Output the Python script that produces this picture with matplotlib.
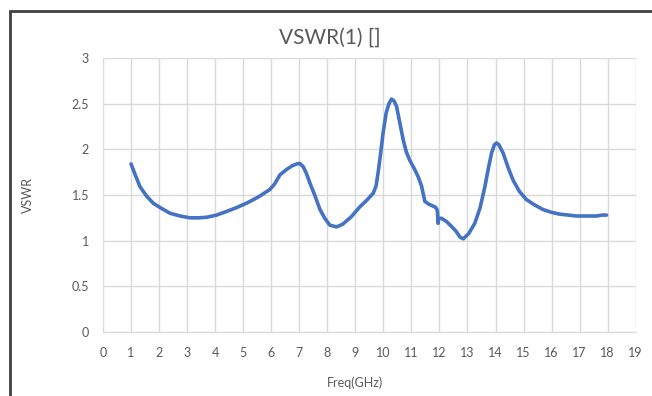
import matplotlib
matplotlib.use("Agg")
import matplotlib.pyplot as plt
from matplotlib.patches import Rectangle

plt.rcParams["font.family"] = ["Lato", "DejaVu Sans"]

# values
freq = [1.0, 1.15, 1.32, 1.55, 1.79, 2.05, 2.39, 2.75, 3.10, 3.40, 3.70,
        4.05, 4.41, 4.75, 5.12, 5.55, 5.95, 6.12, 6.31, 6.55, 6.75, 6.91,
        7.02, 7.14, 7.25, 7.38, 7.55, 7.74, 7.92, 8.09, 8.33, 8.55, 8.85,
        9.16, 9.40, 9.64, 9.74, 9.81, 9.90, 9.99, 10.10, 10.20, 10.29,
        10.38, 10.47, 10.58, 10.71, 10.82, 10.94, 11.10, 11.24, 11.36,
        11.48, 11.62, 11.76, 11.84, 11.90, 11.93, 11.95, 11.97, 12.07,
        12.25, 12.45, 12.60, 12.73, 12.85, 13.05, 13.26, 13.45, 13.62,
        13.75, 13.86, 13.96, 14.04, 14.12, 14.27, 14.45, 14.63, 14.85,
        15.10, 15.40, 15.70, 16.00, 16.29, 16.60, 16.89, 17.25, 17.60,
        17.80, 17.96]
vswr = [1.84, 1.72, 1.59, 1.49, 1.41, 1.36, 1.30, 1.27, 1.25, 1.25, 1.256,
        1.28, 1.32, 1.36, 1.41, 1.48, 1.56, 1.62, 1.72, 1.78, 1.82, 1.84,
        1.845, 1.81, 1.74, 1.63, 1.50, 1.34, 1.24, 1.17, 1.15, 1.18, 1.26,
        1.37, 1.44, 1.52, 1.60, 1.74, 1.95, 2.18, 2.40, 2.50, 2.55, 2.53,
        2.47, 2.30, 2.10, 1.97, 1.88, 1.79, 1.70, 1.60, 1.43, 1.40, 1.38,
        1.37, 1.35, 1.32, 1.19, 1.24, 1.245, 1.21, 1.15, 1.10, 1.04, 1.02,
        1.08, 1.19, 1.36, 1.59, 1.80, 1.96, 2.05, 2.07, 2.05, 1.96, 1.80,
        1.66, 1.54, 1.45, 1.39, 1.34, 1.31, 1.29, 1.28, 1.27, 1.27, 1.27,
        1.28, 1.28]

x_ticks = list(range(0, 20))
y_ticks = [0, 0.5, 1, 1.5, 2, 2.5, 3]
y_labels = ["0", "0.5", "1", "1.5", "2", "2.5", "3"]

fig = plt.figure(figsize=(6.52, 3.96), dpi=100)
ax = fig.add_axes([0.158, 0.1616, 0.817, 0.692])

ax.plot(freq, vswr, color="#4472C4", lw=2.6,
        solid_capstyle="round", solid_joinstyle="round")

ax.set_xlim(0, 19)
ax.set_ylim(0, 3)
ax.set_xticks(x_ticks)
ax.set_yticks(y_ticks)
ax.set_yticklabels(y_labels)
ax.grid(True, color="#d9d9d9", lw=1)
ax.set_axisbelow(True)
for side in ["top", "right", "left"]:
    ax.spines[side].set_visible(False)
ax.spines["bottom"].set_color("#d9d9d9")
ax.tick_params(length=0, labelsize=9, colors="#595959")
ax.tick_params(axis="x", pad=11)
ax.tick_params(axis="y", pad=10)

fig.text(330 / 652, 1 - 38 / 396, "VSWR(1) []", fontsize=15,
         color="#595959", ha="center", va="center")
fig.text(355 / 652, 1 - 383 / 396, "Freq(GHz)", fontsize=9,
         color="#595959", ha="center", va="center")
fig.text(28 / 652, 1 - 195 / 396, "VSWR", fontsize=9, rotation=90,
         color="#595959", ha="center", va="center")

fig.patches.append(Rectangle((10 / 652, -0.2), 1.2, 1.2 - 11 / 396,
                             transform=fig.transFigure, fill=False,
                             edgecolor="#404040", lw=2, clip_on=False))

fig.savefig("out.png", dpi=100)
